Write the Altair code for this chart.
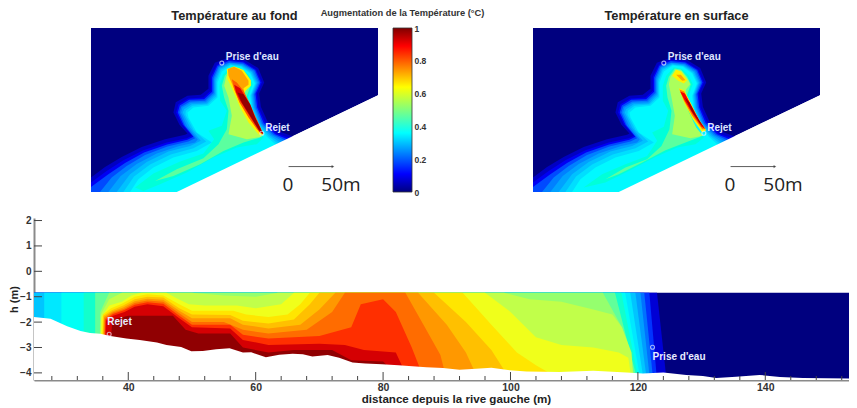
import altair as alt
import pandas as pd

# ---------- colour scale ----------
JET_DOMAIN = [0, 0.11, 0.36, 0.5, 0.64, 0.89, 1]
JET_RANGE = ['#00007f', '#0000ff', '#00ffff', '#7fff7f', '#ffff00', '#ff0000', '#7f0000']
JET = alt.Scale(domain=JET_DOMAIN, range=JET_RANGE, clamp=True)
FONT = 'Liberation Sans'

# ---------- plan-view maps: frame, shore, isotherms (map units) ----------
FRAME = [[33, 82], [893, 82], [893, 283], [290, 573], [33, 573]]
SHORE = [[290, 573], [893, 283], [893, 573]]
L04 = [[33,530],[75,498],[125,468],[185,438],[255,415],[315,402],[322,398],[298,372],[280,335],[287,304],[322,285],[362,282],[385,264],[385,225],[404,186],[443,172],[492,176],[534,202],[552,245],[537,278],[542,318],[562,362],[598,392],[640,408],[640,573],[33,573]]
L08 = [[33,545],[80,510],[130,478],[190,448],[260,425],[320,412],[335,405],[305,370],[288,335],[295,310],[325,293],[370,290],[392,270],[392,228],[410,192],[445,178],[490,182],[528,206],[545,245],[530,278],[535,320],[555,365],[590,398],[630,412],[630,573],[33,573]]
L12 = [[33,558],[85,520],[135,486],[192,455],[261,431],[322,417],[340,408],[310,372],[293,335],[299,314],[327,297],[372,295],[396,273],[396,230],[412,195],[446,181],[489,185],[525,208],[541,245],[526,279],[531,320],[550,366],[585,400],[622,415],[622,573],[33,573]]
L16 = [[60,573],[95,530],[140,495],[195,462],[262,437],[325,422],[345,412],[315,375],[298,335],[303,318],[330,302],[375,300],[400,276],[400,232],[415,198],[447,185],[488,189],[522,210],[537,245],[522,280],[527,320],[546,368],[580,402],[615,418],[615,573]]
L20 = [[85,573],[122,525],[170,489],[230,458],[295,436],[345,425],[353,416],[322,377],[303,335],[307,321],[332,306],[377,304],[403,279],[403,235],[417,201],[448,187],[486,191],[518,212],[533,245],[519,281],[523,320],[542,369],[575,403],[607,421],[607,573]]
L24 = [[110,573],[150,520],[200,483],[265,452],[330,435],[362,420],[330,380],[308,335],[312,325],[335,310],[380,308],[406,282],[406,238],[420,204],[450,190],[485,194],[515,214],[530,246],[516,282],[520,320],[539,370],[570,405],[600,425],[600,573]]
L28 = [[130,573],[162,527],[210,491],[272,461],[340,442],[378,422],[340,387],[316,342],[317,330],[337,315],[382,311],[409,286],[409,241],[422,208],[451,192],[483,196],[512,216],[527,247],[513,283],[517,322],[535,371],[565,406],[592,427],[592,573]]
L32 = [[150,573],[175,535],[220,500],[280,470],[350,450],[395,425],[350,395],[325,350],[322,335],[340,320],[385,315],[412,290],[412,245],[425,212],[452,194],[482,198],[510,218],[524,248],[510,285],[514,325],[532,372],[560,408],[585,430],[585,573]]
L32_HOLE = [[375,350],[400,335],[425,348],[405,368],[385,365]]
L40 = [[165,560],[220,518],[300,482],[370,458],[402,415],[385,390],[425,375],[440,330],[420,300],[418,255],[428,222],[455,196],[480,200],[505,222],[518,250],[503,288],[505,330],[523,375],[550,410],[530,430],[470,440],[400,470],[320,515],[240,550],[190,570]]
L48 = [[225,540],[290,505],[370,472],[415,430],[440,385],[445,330],[432,290],[425,255],[434,225],[458,198],[478,202],[500,225],[513,250],[497,292],[498,335],[516,380],[540,410],[490,425],[430,450],[360,490],[280,525]]
L56 = [[445,400],[455,345],[445,290],[432,255],[438,228],[460,200],[482,205],[505,235],[510,252],[497,270],[490,285],[502,330],[525,380],[545,408],[500,415]]
L64 = [[442,235],[440,205],[462,197],[490,208],[512,238],[512,255],[495,270],[490,285],[505,320],[530,375],[550,405],[535,400],[505,365],[480,320],[465,285],[452,255]]
L72 = [[445,225],[443,205],[462,198],[485,210],[505,240],[505,252],[490,262],[497,300],[520,350],[548,400],[530,385],[500,340],[475,295],[460,260]]
L80 = [[455,235],[470,245],[490,270],[505,300],[525,345],[550,400],[538,395],[505,350],[478,305],[462,265]]
L88 = [[462,252],[480,262],[500,295],[522,345],[550,400],[540,395],[508,345],[480,300],[468,275]]
L96 = [[472,275],[490,280],[510,310],[525,350],[548,398],[535,385],[510,345],[485,305]]

S40 = [[185,560],[240,520],[310,490],[375,465],[405,420],[390,395],[425,378],[438,330],[422,300],[422,255],[432,225],[455,200],[478,204],[500,224],[512,250],[498,288],[502,330],[520,375],[545,410],[520,430],[465,440],[400,468],[320,510],[250,545]]
S48 = [[250,535],[310,500],[375,475],[418,435],[442,385],[448,330],[436,290],[432,255],[440,228],[458,203],[476,206],[495,228],[506,250],[492,290],[494,335],[512,380],[535,408],[490,425],[430,448],[360,485],[290,520]]
S56 = [[450,400],[458,345],[448,290],[440,250],[445,228],[460,207],[478,210],[497,235],[504,250],[492,265],[488,290],[498,330],[522,380],[542,405],[505,412]]
S64 = [[450,225],[462,207],[476,212],[495,238],[485,248],[468,240]]
S64B = [[470,262],[486,268],[505,305],[530,355],[552,388],[540,395],[512,355],[488,310]]
S72 = [[462,222],[476,222],[490,238],[480,240]]
S72B = [[472,266],[486,272],[505,310],[530,358],[550,385],[540,385],[510,345],[485,300]]
S88 = [[474,272],[488,278],[506,312],[532,360],[549,384],[538,378],[512,340],[488,300]]
S96 = [[488,290],[502,305],[520,340],[546,382],[532,365],[508,330]]

COOL = [(0.06,[L04]),(0.1,[L08]),(0.14,[L12]),(0.19,[L16]),(0.23,[L20]),(0.27,[L24]),(0.31,[L28]),(0.35,[L32,L32_HOLE])]
MAP1_BANDS = COOL + [(0.41,[L40]),(0.47,[L48]),(0.56,[L56]),(0.66,[L64]),(0.76,[L72]),(0.84,[L80]),(0.92,[L88]),(0.98,[L96])]
MAP2_BANDS = COOL + [(0.41,[S40]),(0.47,[S48]),(0.55,[S56]),(0.66,[S64]),(0.66,[S64B]),(0.76,[S72]),(0.8,[S72B]),(0.9,[S88]),(0.98,[S96])]
MARKS = [{'x':425,'y':187},{'x':545,'y':397}]
LABELS = [{'x':437,'y':170,'t':"Prise d'eau"},{'x':555,'y':382,'t':'Rejet'}]
ARROW = [{'x':625,'y':497,'x2':758,'y2':497}]
ARROW_TIP = [{'x':758,'y':497}]
SCALE_TXT = [{'x':623,'y':552,'t':'0'},{'x':782,'y':552,'t':'50m'}]

def poly(v, rings):
    return {'type':'Feature','properties':{'v':v},'geometry':{'type':'Polygon','coordinates':[r+[r[0]] for r in rings]}}

def map_panel(bands, title, w=287, h=164):
    proj = dict(type='identity')
    feats = [poly(0, [FRAME])] + [poly(v, r) for v, r in bands]
    fill = alt.Chart(alt.InlineData(values=feats)).mark_geoshape(strokeWidth=0).encode(
        color=alt.Color('properties.v:Q', scale=JET, legend=None)).project(**proj)
    shore = alt.Chart(alt.InlineData(values=[poly(0, [SHORE])])).mark_geoshape(fill='white', strokeWidth=0).project(**proj)
    pts = alt.Chart(alt.InlineData(values=MARKS)).mark_point(shape='circle', size=16, filled=False, color='#e8ecff', strokeWidth=1.1).encode(
        longitude='x:Q', latitude='y:Q').project(**proj)
    txt = alt.Chart(alt.InlineData(values=LABELS)).mark_text(align='left', baseline='middle', font=FONT, fontSize=10, color='#dfe6ff', fontWeight='bold').encode(
        longitude='x:Q', latitude='y:Q', text='t:N').project(**proj)
    arr = alt.Chart(alt.InlineData(values=ARROW)).mark_rule(color='#333', strokeWidth=0.8).encode(
        longitude='x:Q', latitude='y:Q', longitude2='x2:Q', latitude2='y2:Q').project(**proj)
    tip = alt.Chart(alt.InlineData(values=ARROW_TIP)).mark_point(shape='triangle-right', size=10, filled=True, color='#333').encode(
        longitude='x:Q', latitude='y:Q').project(**proj)
    sc = alt.Chart(alt.InlineData(values=SCALE_TXT)).mark_text(align='center', baseline='middle', font='Open Sans', fontSize=19, color='#222').encode(
        longitude='x:Q', latitude='y:Q', text='t:N').project(**proj)
    return alt.layer(fill, shore, arr, tip, pts, txt, sc).properties(
        width=w, height=h,
        title=alt.TitleParams(title, font=FONT, fontSize=12.8, fontWeight='bold', color='#222', offset=5, anchor='middle'))

# ---------- colour bar ----------
BAR = [{'lo':0,'hi':1}]
BAR_TICKS = [0,0.2,0.4,0.6,0.8,1]
grad = alt.LinearGradient(gradient='linear', x1=0, x2=0, y1=1, y2=0,
                    stops=[alt.GradientStop(offset=o, color=c) for o, c in zip(JET_DOMAIN, JET_RANGE)])
colorbar = alt.Chart(alt.InlineData(values=BAR)).mark_rect(color=grad, stroke='#333', strokeWidth=0.8).encode(
    y=alt.Y('lo:Q', scale=alt.Scale(domain=[0,1], nice=False), axis=alt.Axis(
        orient='right', values=BAR_TICKS, title=None, domain=False, grid=False, tickSize=0, labelPadding=2, format='~g',
        labelFont=FONT, labelFontWeight='bold', labelFontSize=8.5, labelColor='#333')),
    y2='hi:Q').properties(width=19, height=164, title=alt.TitleParams(
        'Augmentation de la Température (°C)', font=FONT, fontSize=9.3, fontWeight='bold', color='#333', offset=6, anchor='middle'))

# ---------- cross-section ----------
XMIN, XMAX, HMIN, HMAX, SURF = 25.2, 153.14, -4.28, 2.1, -0.84
BED = [[25.2,-1.8],[27.8,-1.87],[30.4,-2.16],[32.5,-2.35],[34,-2.43],[35.6,-2.46],[37.2,-2.55],[39.7,-2.65],[41.8,-2.7],[44.5,-2.8],[46,-2.9],[48.3,-2.98],[49.9,-3.15],[51.7,-3.14],[53.8,-3.07],[55.9,-3.03],[58,-3.2],[59.3,-3.19],[61.6,-3.38],[63.7,-3.29],[65.8,-3.25],[67.4,-3.27],[68.9,-3.35],[71.3,-3.3],[73.1,-3.4],[75.2,-3.59],[77.2,-3.63],[79.8,-3.66],[82.4,-3.7],[86.8,-3.78],[89.4,-3.81],[92,-3.88],[94.6,-3.84],[97,-3.8],[99.9,-3.9],[102.5,-3.95],[107.7,-3.96],[113,-3.92],[118.2,-3.98],[120.8,-4.02],[124,-3.98],[127.6,-4.08],[130.2,-4.12],[132.3,-4.2],[135.4,-4.15],[139.1,-4.08],[142.3,-4.16],[145.9,-4.2],[153.14,-4.22]]
T = SURF
F = HMIN
S05 = [[25.2,T],[123,T],[124.5,F]]
S10 = [[25.2,T],[121.8,T],[123,F]]
S15 = [[25.2,T],[121,T],[122.4,F]]
S20 = [[25.2,T],[120.4,T],[121.9,F]]
S25 = [[25.2,T],[119.6,T],[121.4,F]]
S30 = [[26.8,T],[118.8,T],[120.9,F]]
S35 = [[29.5,T],[118,T],[120.4,F]]
S40_ = [[33,T],[117.4,T],[120.1,F]]
S45 = [[34.8,T],[116.4,T],[119.9,F]]
S50 = [[35.4,F],[35.6,-1.6],[37,T],[114.5,T],[117.5,-2.2],[119.6,F]]
S55 = [[35.5,F],[35.7,-1.7],[37,-1.1],[39,T],[50,T],[55,-0.95],[60,-1.0],[63.5,T],[99,T],[103,-1.1],[108,-1.2],[113,-1.5],[116,-1.7],[117.5,-2.2],[119,-3.2],[119.3,F]]
S60 = [[35.6,F],[35.8,-1.8],[37,-1.35],[39,-1.2],[40.5,-0.95],[42,T],[46,T],[47.5,-1.05],[49.5,-1.3],[52,-1.35],[57,-1.35],[60,-1.45],[64,-1.3],[66,T],[96,T],[100,-1.6],[104,-2.6],[108,-2.9],[113,-3.0],[117,-3.2],[118.5,-3.4],[119,F]]
S65 = [[35.7,F],[36,-1.7],[37.3,-1.45],[39,-1.28],[41,-1.0],[43,-0.9],[45.5,-0.95],[48,-1.3],[50,-1.55],[53,-1.55],[56.5,-1.55],[58.5,-1.7],[62,-1.8],[65,-1.7],[67,-1.3],[68.5,T],[92.5,T],[97,-2.1],[101,-3.2],[104,-3.7],[108,F]]
S70 = [[35.8,F],[36.1,-1.75],[37.5,-1.52],[39.2,-1.35],[41,-1.1],[43,-1.0],[45.5,-1.03],[48,-1.45],[50,-1.7],[56,-1.72],[58,-1.95],[62,-2.05],[66,-1.9],[68.5,-1.3],[70,T],[88,T],[93,-2.0],[97,-3.1],[100,F]]
S75 = [[35.9,F],[36.2,-1.8],[37.5,-1.58],[39.2,-1.42],[41,-1.18],[43,-1.08],[45.5,-1.12],[48,-1.55],[50,-1.85],[56,-1.85],[58,-2.1],[62,-2.25],[67,-2.1],[70,-1.5],[72.5,T],[85.5,T],[90,-2.1],[93,-3.2],[95,F]]
S80 = [[36,F],[36.3,-1.85],[37.6,-1.62],[39.3,-1.48],[41,-1.25],[43,-1.15],[45.5,-1.2],[48,-1.65],[50,-2.0],[55,-2.0],[58,-2.3],[62,-2.45],[68,-2.3],[72,-1.6],[74,T],[83.5,T],[87,-2.4],[89,-3.3],[90,F]]
S85 = [[36.1,F],[36.4,-1.9],[37.6,-1.68],[39.4,-1.52],[41,-1.32],[43,-1.22],[45.5,-1.28],[48,-1.75],[50,-2.1],[56,-2.1],[58,-2.5],[62,-2.65],[70,-2.55],[75,-2.2],[76.5,-1.3],[80,-1.1],[82,-1.6],[84.5,-3],[86.5,F]]
S90 = [[36.2,F],[36.5,-1.95],[37.6,-1.75],[39.4,-1.6],[41,-1.4],[43,-1.3],[45.5,-1.38],[48,-1.85],[50,-2.2],[56,-2.25],[58,-2.7],[62,-2.9],[70,-2.85],[74,-2.9],[77,-3.1],[82,-3.2],[84,F]]
S95 = [[36.8,F],[37.5,-1.9],[40,-1.75],[47,-1.75],[49,-2.3],[51,-2.45],[56,-2.45],[58,-3.0],[62,-3.2],[66,-3.1],[72,-3.1],[75,-3.5],[80,-3.55],[83,F]]
SEC_BANDS = [(0.075,S05),(0.125,S10),(0.175,S15),(0.225,S20),(0.275,S25),(0.325,S30),(0.375,S35),(0.425,S40_),(0.475,S45),(0.525,S50),(0.575,S55),(0.625,S60),(0.675,S65),(0.725,S70),(0.775,S75),(0.825,S80),(0.875,S85),(0.925,S90),(0.985,S95)]
X_LABELS = [40,60,80,100,120,140]
X_MINOR = [28,32,36,44,48,52,56,64,68,72,76,84,88,92,96,104,108,112,116,124,128,132,136,144,148,152]
Y_LABELS = [-4,-3,-2,-1,0,1,2]
SEC_PTS = [{'x':37,'h':-2.48},{'x':122.3,'h':-2.99}]
SEC_TXT = [{'x':36.7,'h':-2.0,'t':'Rejet'},{'x':122.3,'h':-3.37,'t':"Prise d'eau"}]

SX = alt.Scale(domain=[XMIN, XMAX], nice=False, zero=False)
SY = alt.Scale(domain=[HMIN, HMAX], nice=False, zero=False)
AX = alt.Axis(values=X_LABELS, title='distance depuis la rive gauche (m)', grid=False, tickSize=0, domainColor='#8a8a8a', domainWidth=2,
              labelFont=FONT, labelFontWeight='bold', labelFontSize=10.5, labelColor='#333', labelPadding=2, titleX=422,
              titleFont=FONT, titleFontWeight='bold', titleFontSize=11.6, titleColor='#222', titlePadding=1)
AY = alt.Axis(values=Y_LABELS, title='h (m)', grid=False, tickSize=0, domainColor='#8a8a8a', domainWidth=2,
              labelFont=FONT, labelFontWeight='bold', labelFontSize=10, labelColor='#333', labelPadding=3,
              titleFont=FONT, titleFontWeight='bold', titleFontSize=11, titleColor='#222', titlePadding=0)
EX = alt.X('x:Q', scale=SX, axis=AX)
EY = alt.Y('h:Q', scale=SY, axis=AY)

def frame(pts):
    return pd.DataFrame([{'x':a,'h':b,'b':HMIN} for a,b in pts])

base = alt.Chart(pd.DataFrame({'x':[XMIN,XMAX],'h':[SURF,SURF],'b':[HMIN,HMIN],'v':[0,0]})).mark_area(interpolate='linear').encode(
    x=EX, y=EY, y2='b:Q', color=alt.Color('v:Q', scale=JET, legend=None))
layers = [base]
for v, pts in SEC_BANDS:
    d = frame(pts); d['v'] = v
    layers.append(alt.Chart(d).mark_area(interpolate='linear').encode(
        x=EX, y=EY, y2='b:Q', color=alt.Color('v:Q', scale=JET, legend=None)))
layers.append(alt.Chart(frame(BED)).mark_area(interpolate='linear', color='white').encode(x=EX, y=EY, y2='b:Q'))
maj = alt.Chart(pd.DataFrame({'x':X_LABELS})).mark_rule(color='#444', strokeWidth=1).encode(x=EX, y=alt.value(154), y2=alt.value(162))
mnr = alt.Chart(pd.DataFrame({'x':X_MINOR})).mark_rule(color='#444', strokeWidth=1).encode(x=EX, y=alt.value(158), y2=alt.value(162))
yt = alt.Chart(pd.DataFrame({'h':Y_LABELS})).mark_rule(color='#444', strokeWidth=1).encode(y=EY, x=alt.value(0), x2=alt.value(8))
p = alt.Chart(pd.DataFrame(SEC_PTS)).mark_point(shape='circle', size=16, filled=False, color='#e8ecff', strokeWidth=1.1).encode(x=EX, y=EY)
tx = alt.Chart(pd.DataFrame(SEC_TXT)).mark_text(align='left', baseline='middle', font=FONT, fontSize=10, color='#e8ecff', fontWeight='bold').encode(x=EX, y=EY, text='t:N')
layers += [maj, mnr, yt, p, tx]
section = alt.layer(*layers).properties(width=815, height=162)

def spacer(w):
    return alt.Chart(alt.InlineData(values=[{}])).mark_text(text='').properties(width=w, height=164)

top = alt.hconcat(spacer(57), map_panel(MAP1_BANDS, 'Température au fond'), spacer(15), colorbar, spacer(121),
                  map_panel(MAP2_BANDS, 'Température en surface'), spacing=0, bounds='flush')
chart = alt.vconcat(top, section, spacing=18).configure_view(stroke=None).properties(padding=0)
chart.save('out.html', embed_options={'renderer': 'svg', 'actions': False})
